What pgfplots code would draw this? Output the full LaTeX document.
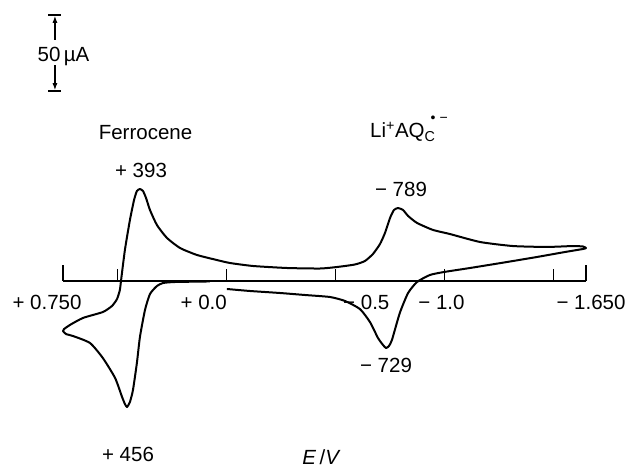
\documentclass[border=0pt]{standalone}
\usepackage{fontspec}
\setmainfont{Liberation Sans}
\usepackage{pgfplots}
\pgfplotsset{compat=1.18}
\usetikzlibrary{arrows.meta}
\begin{document}
\begin{tikzpicture}
\fontsize{20.5}{24}\selectfont
\path[use as bounding box] (0,0) rectangle (627pt,469pt);
\begin{axis}[at={(0,0)}, anchor=south west, scale only axis,
  width=627pt, height=469pt, x dir=reverse,
  xmin=-1.8372, xmax=1.0390, ymin=-123.684, ymax=184.868,
  hide axis, clip=false]
% baseline and ticks
\draw[line width=1.4pt] (axis cs:0.75,0) -- (axis cs:-1.65,0);
\draw[line width=1.4pt] (axis cs:0.75,0) -- (axis cs:0.75,10.5);
\draw[line width=1.4pt] (axis cs:-1.65,0) -- (axis cs:-1.65,10.5);
\draw[line width=1.4pt] (axis cs:0.5,0) -- (axis cs:0.5,7.9);
\draw[line width=1.4pt] (axis cs:0,0) -- (axis cs:0,7.9);
\draw[line width=1.4pt] (axis cs:-0.5,0) -- (axis cs:-0.5,7.9);
\draw[line width=1.4pt] (axis cs:-1.0,0) -- (axis cs:-1.0,7.9);
\draw[line width=1.4pt] (axis cs:-1.5,0) -- (axis cs:-1.5,7.9);
% scale bar 50 uA
\draw[line width=1.3pt] (axis cs:0.8167,175) -- (axis cs:0.7573,175);
\draw[line width=1.3pt] (axis cs:0.8167,125) -- (axis cs:0.7573,125);
\draw[line width=1.3pt,-{Latex[length=7pt,width=5pt]}] (axis cs:0.787,158.6) -- (axis cs:0.787,174.5);
\draw[line width=1.3pt,-{Latex[length=7pt,width=5pt]}] (axis cs:0.787,142) -- (axis cs:0.787,125.5);
\addplot[black, line width=2pt, line join=round, smooth, tension=0.35] coordinates {
(-0.002,-5.26) (-0.108,-6.58) (-0.245,-7.89) (-0.360,-9.21) (-0.475,-10.53)
(-0.544,-13.16) (-0.612,-18.42) (-0.658,-26.97) (-0.695,-37.5) (-0.718,-42.1)
(-0.732,-44.1) (-0.745,-42.8) (-0.759,-38.8) (-0.795,-21.05) (-0.833,-7.89)
(-0.874,-0.66) (-0.933,3.95) (-0.998,5.92) (-1.117,8.55) (-1.287,12.5)
(-1.424,15.79) (-1.553,19.08) (-1.635,21.05) (-1.649,21.7)
(-1.635,22.7) (-1.589,23.0) (-1.470,22.4) (-1.314,23.0) (-1.163,25.66)
(-1.025,30.9) (-0.947,33.6) (-0.874,38.2) (-0.833,42.8) (-0.810,46.7)
(-0.787,48.0) (-0.768,46.7) (-0.750,41.4) (-0.727,31.6) (-0.704,24.3)
(-0.672,17.8) (-0.635,13.16) (-0.589,10.86) (-0.507,9.21) (-0.429,8.22)
(-0.278,8.55) (-0.122,9.87) (-0.016,11.84) (0.044,13.8) (0.135,17.1)
(0.213,21.7) (0.273,28.3) (0.319,36.8) (0.351,46.7) (0.369,54.6)
(0.383,59.2) (0.397,60.5) (0.411,59.2) (0.424,53.3) (0.443,40.1)
(0.466,20.4) (0.484,0) (0.489,-5.9) (0.502,-11.8) (0.525,-16.4)
(0.567,-20.4) (0.658,-24.3) (0.718,-28.9) (0.745,-31.6) (0.750,-32.9)
(0.736,-34.9) (0.704,-36.2) (0.626,-40.8) (0.567,-50.7) (0.511,-63.8)
(0.479,-76.3) (0.466,-80.9) (0.456,-82.9) (0.443,-79.6) (0.429,-71.7)
(0.411,-53.9) (0.397,-36.8) (0.374,-19.1) (0.351,-8.55) (0.319,-3.29)
(0.291,-1.32) (0.236,-0.66) (0.076,-0.3)
};
\end{axis}
% text labels (pixel positions: x, 469-y)
\node[anchor=base] at (63.5pt,407pt) {50\,µA};
\node[anchor=base] at (145.5pt,329pt) {Ferrocene};
\node[anchor=base west,inner sep=0pt] at (370pt,331pt) {Li\textsuperscript{+}AQ\rlap{\textsubscript{C}}\hspace{6pt}{\fontsize{14}{16}\selectfont\raisebox{15pt}{\textbullet}\hspace{4pt}\raisebox{15pt}{−}}};
\node[anchor=base] at (141pt,291pt) {+ 393};
\node[anchor=base] at (401pt,272pt) {− 789};
\node[anchor=base] at (386pt,96pt) {− 729};
\node[anchor=base] at (128pt,8pt) {+ 456};
\node[anchor=base] at (47pt,159pt) {+ 0.750};
\node[anchor=base east,inner sep=0pt] at (227pt,159pt) {+ 0.0};
\node[anchor=base west,inner sep=0pt] at (343pt,159pt) {− 0.5};
\node[anchor=base] at (441.5pt,159pt) {− 1.0};
\node[anchor=base] at (591pt,159pt) {− 1.650};
\node[anchor=base,inner sep=0pt] at (321.5pt,5pt) {\textit{E}\,/\textit{V}};
\end{tikzpicture}
\end{document}
